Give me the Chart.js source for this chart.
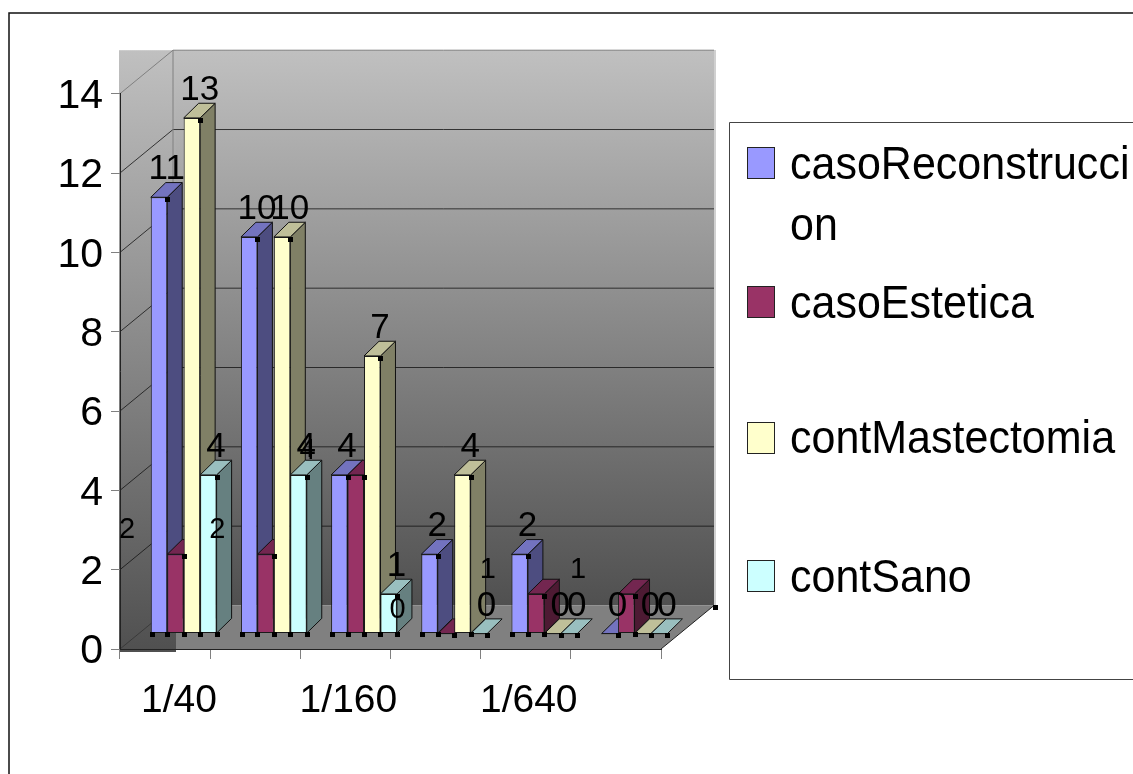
<!DOCTYPE html>
<html>
<head>
<meta charset="utf-8">
<title>Chart</title>
<script src="https://cdn.jsdelivr.net/npm/chart.js@4"></script>
<style>
    html, body { margin: 0; padding: 0; background: #fff; overflow: hidden; }
    canvas { display: block; }
</style>
</head>
<body>
<canvas id="chart" width="1133" height="774"></canvas>
<script>
const categories = ['1/40', '', '1/160', '', '1/640', ''];
const casoReconstruccion = [11, 10, 4, 2, 2, 0];
const casoEstetica = [2, 2, 4, 0, 1, 1];
const contMastectomia = [13, 10, 7, 4, 0, 0];
const contSano = [4, 4, 1, 0, 0, 0];
const yTicksStep = 2;

// shift of the bars from the axes, depth of the bars, depth of the walls
const barShift = { x: 18.6, y: -15.4 };
const barDepth = { x: 15, y: -14.7 };
const wallDepth = { x: 53, y: -43.5 };
const font = 'Liberation Sans';

function makeSeries(label, values, front, side, top) {
    return {
        label: label,
        data: values,
        backgroundColor: front,
        borderColor: '#1a1a1a',
        borderWidth: 1,
        borderSkipped: false,
        sideColor: side,
        topColor: top
    };
}

function poly(ctx, points, fill, stroke) {
    ctx.beginPath();
    points.forEach((p, i) => i ? ctx.lineTo(p[0], p[1]) : ctx.moveTo(p[0], p[1]));
    ctx.closePath();
    ctx.fillStyle = fill;
    ctx.fill();
    if (stroke) {
        ctx.strokeStyle = stroke;
        ctx.lineWidth = 1;
        ctx.stroke();
    }
}

function grayGradient(ctx, top, bottom) {
    const g = ctx.createLinearGradient(0, top, 0, bottom);
    g.addColorStop(0, '#c0c0c0');
    g.addColorStop(1, '#505050');
    return g;
}

const walls = {
    id: 'walls',
    beforeDraw(chart) {
        const ctx = chart.ctx;
        const a = chart.chartArea;
        const y = chart.scales.y;
        const backX = a.left + wallDepth.x;
        const backTop = a.top + wallDepth.y;
        const backBottom = a.bottom + wallDepth.y;
        const backRight = a.right + wallDepth.x;

        ctx.save();
        ctx.fillStyle = '#fff';
        ctx.fillRect(0, 0, chart.width, chart.height);

        // outer frame, it runs off the right and bottom of the picture
        ctx.strokeStyle = '#111';
        ctx.lineWidth = 1.5;
        ctx.beginPath();
        ctx.moveTo(9, chart.height);
        ctx.lineTo(9, 13);
        ctx.lineTo(chart.width, 13);
        ctx.stroke();

        // back wall and floor
        ctx.fillStyle = grayGradient(ctx, backTop, backBottom);
        ctx.fillRect(backX, backTop, backRight - backX + 2, backBottom - backTop);
        poly(ctx, [[backX, backBottom], [backRight, backBottom], [a.right, a.bottom], [backX, a.bottom]], '#808080');
        ctx.strokeStyle = '#222';
        ctx.lineWidth = 1;
        ctx.beginPath();
        ctx.moveTo(a.right, a.bottom);
        ctx.lineTo(backRight, backBottom);
        ctx.stroke();
        ctx.strokeStyle = '#d0d0d0';
        ctx.lineWidth = 2;
        ctx.beginPath();
        ctx.moveTo(backRight + 1, backTop);
        ctx.lineTo(backRight + 1, backBottom);
        ctx.stroke();

        // left wall, square at the top and bottom like in the old chart
        ctx.fillStyle = grayGradient(ctx, backTop, a.bottom + 3);
        ctx.fillRect(a.left - 1, backTop, wallDepth.x + 4, a.bottom + 3 - backTop);

        // grid lines on both walls, taken from the y scale
        y.ticks.forEach(t => {
            const py = y.getPixelForValue(t.value);
            ctx.strokeStyle = t.value === y.max ? '#808080' : 'rgba(20,20,20,0.8)';
            ctx.lineWidth = t.value === 0 ? 0.5 : 1;
            ctx.beginPath();
            ctx.moveTo(a.left, py);
            ctx.lineTo(backX, py + wallDepth.y);
            if (t.value !== 0) ctx.lineTo(backRight, py + wallDepth.y);
            ctx.stroke();
        });
        ctx.strokeStyle = '#808080';
        ctx.lineWidth = 1;
        ctx.beginPath();
        ctx.moveTo(backX, backTop);
        ctx.lineTo(backX, backBottom);
        ctx.stroke();
        ctx.restore();
    }
};

// the library paints the first series last, here it has to go first so that
// every bar covers the side of its left neighbour. Labels and marks go on top.
const bars3d = {
    id: 'bars3d',
    beforeDatasetsDraw(chart) {
        const ctx = chart.ctx;
        const a = chart.chartArea;
        const metas = chart.data.datasets.map((ds, d) => chart.getDatasetMeta(d));

        ctx.save();
        ctx.translate(barShift.x, barShift.y);
        metas.forEach((meta, d) => {
            const ds = chart.data.datasets[d];
            meta.data.forEach(bar => {
                const l = bar.x - bar.width / 2;
                const r = bar.x + bar.width / 2;
                const t = bar.y;
                const b = bar.base;
                const dx = barDepth.x;
                const dy = barDepth.y;
                if (b > t) poly(ctx, [[r, t], [r + dx, t + dy], [r + dx, b + dy], [r, b]], ds.sideColor, '#111');
                poly(ctx, [[l, t], [l + dx, t + dy], [r + dx, t + dy], [r, t]], ds.topColor, '#111');
                bar.draw(ctx);
            });
        });
        ctx.restore();

        ctx.save();
        ctx.fillStyle = '#000';
        ctx.textAlign = 'center';
        ctx.textBaseline = 'alphabetic';
        const mark = (x, y) => ctx.fillRect(Math.round(x) - 2, Math.round(y) - 2, 5, 5);

        mark(a.right + wallDepth.x + 1, a.bottom + wallDepth.y + 1);
        metas.forEach((meta, d) => {
            const ds = chart.data.datasets[d];
            meta.data.forEach((bar, i) => {
                const r = bar.x + bar.width / 2 + barShift.x;
                const top = bar.y + barShift.y;
                const base = bar.base + barShift.y;
                if (d === 0 && ds.data[i] > 0) mark(bar.x - bar.width / 2 + barShift.x + 1, base + 1);
                mark(r, base + 1);
                if (ds.data[i] > 0) mark(r, top + 2);
                // the casoEstetica labels sit far to the left of their bars in the original
                if (d === 1) {
                    ctx.font = '29px "' + font + '"';
                    ctx.fillText(ds.data[i], r - 56.5, top - 16);
                } else {
                    ctx.font = '35px "' + font + '"';
                    ctx.fillText(ds.data[i], r - 0.5, top - 18);
                }
            });
        });
        ctx.restore();
        return false;
    }
};

const sideLegend = {
    id: 'sideLegend',
    afterDraw(chart) {
        const ctx = chart.ctx;
        const rows = [
            { swatch: 147, lines: [[0, 16, 179], [16, 18, 240]] },
            { swatch: 286, lines: [[0, 12, 318]] },
            { swatch: 422, lines: [[0, 15, 453]] },
            { swatch: 560, lines: [[0, 8, 592]] }
        ];
        ctx.save();
        ctx.strokeStyle = '#444';
        ctx.lineWidth = 1;
        ctx.beginPath();
        ctx.moveTo(chart.width, 122.5);
        ctx.lineTo(729.5, 122.5);
        ctx.lineTo(729.5, 679.5);
        ctx.lineTo(chart.width, 679.5);
        ctx.stroke();
        chart.data.datasets.forEach((ds, d) => {
            ctx.fillStyle = ds.backgroundColor;
            ctx.strokeStyle = '#222';
            ctx.fillRect(747.5, rows[d].swatch, 27, 31);
            ctx.strokeRect(747.5, rows[d].swatch + 0.5, 27, 31);
            ctx.fillStyle = '#000';
            ctx.font = '46px "' + font + '"';
            ctx.textAlign = 'left';
            rows[d].lines.forEach(line => {
                ctx.save();
                ctx.translate(790, line[2]);
                ctx.scale(0.935, 1);
                ctx.fillText(ds.label.slice(line[0], line[1]), 0, 0);
                ctx.restore();
            });
        });
        ctx.restore();
    }
};

Chart.defaults.font.family = font;
Chart.defaults.color = '#000';

const ctx = document.getElementById('chart').getContext('2d');
new Chart(ctx, {
    type: 'bar',
    data: {
        labels: categories,
        datasets: [
            makeSeries('casoReconstruccion', casoReconstruccion, '#9999ff', '#4d4d80', '#7373bf'),
            makeSeries('casoEstetica', casoEstetica, '#993366', '#4d1a33', '#732650'),
            makeSeries('contMastectomia', contMastectomia, '#ffffcc', '#808066', '#bfbf99'),
            makeSeries('contSano', contSano, '#ccffff', '#668080', '#99bfbf')
        ]
    },
    plugins: [walls, bars3d, sideLegend],
    options: {
        responsive: false,
        animation: false,
        layout: { padding: { top: 93.7, right: 472, left: 0, bottom: 0 } },
        datasets: { bar: { categoryPercentage: 0.73, barPercentage: 1 } },
        plugins: {
            legend: { display: false },
            tooltip: { enabled: false }
        },
        scales: {
            x: {
                afterFit: scale => { scale.height = 125; },
                border: { color: '#222', width: 1 },
                grid: { drawOnChartArea: false, tickLength: 10, tickColor: '#808080' },
                ticks: {
                    autoSkip: false,
                    maxRotation: 0,
                    labelOffset: 3,
                    padding: 19,
                    font: { size: 39 },
                    callback: (v, i) => (i === 0 ? '  ' : '') + categories[i]
                }
            },
            y: {
                min: 0,
                max: 14,
                afterFit: scale => { scale.width = 120; },
                border: { color: '#222', width: 1 },
                grid: { drawOnChartArea: false, tickLength: 9, tickColor: '#808080' },
                ticks: { stepSize: yTicksStep, padding: 8, labelOffset: 3, font: { size: 41 } }
            }
        }
    }
});
</script>
</body>
</html>
